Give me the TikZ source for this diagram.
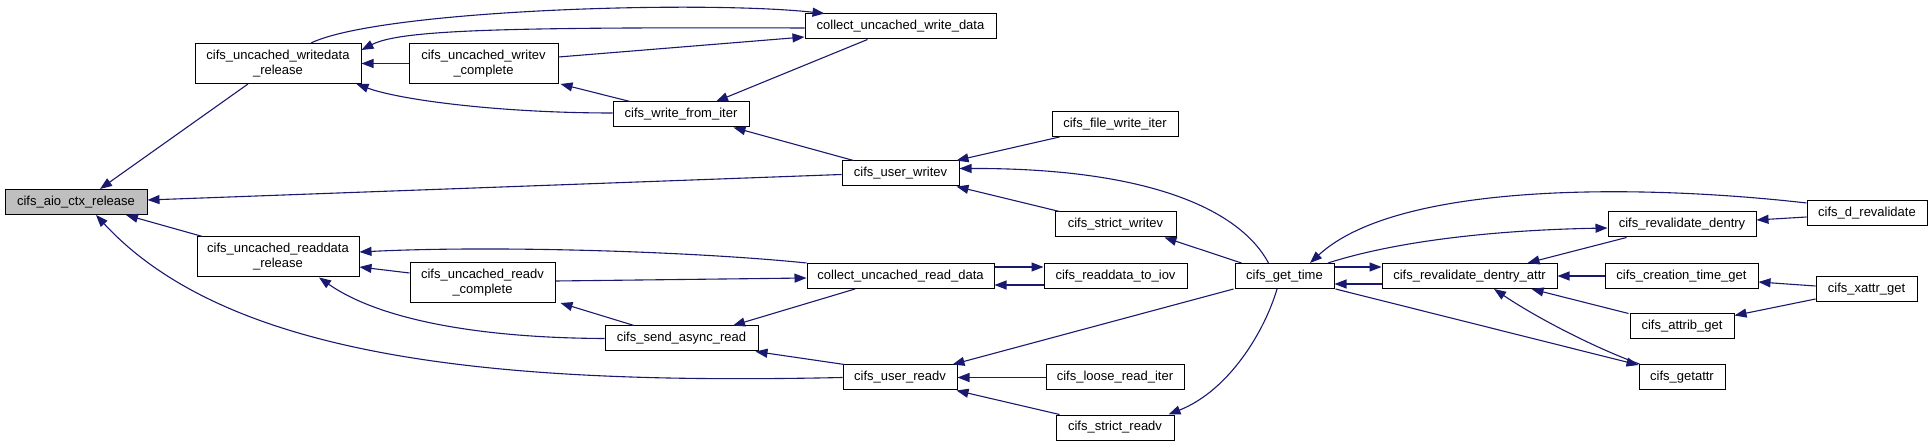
\documentclass[tikz,border=0pt]{standalone}
\usepackage{fontspec}
\setmainfont{Liberation Sans}
\usetikzlibrary{arrows.meta}
\definecolor{edgeblue}{HTML}{191970}
\definecolor{hilite}{HTML}{BFBFBF}
\tikzset{
  fn/.style={draw=black, line width=1pt, rectangle, inner sep=0pt, align=center,
    minimum height=25pt, font=\fontsize{13}{15}\selectfont},
  fntwo/.style={fn, minimum height=40pt},
  edge/.style={draw=edgeblue, line width=1.1pt, -{Triangle[length=12pt,width=9pt]}}
}
\begin{document}
\begin{tikzpicture}[x=1pt,y=1pt]
\useasboundingbox[fill=white] (0,0) rectangle (1932,447);
% nodes
\node[fn, fill=hilite, minimum width=142pt] (aio) at (76,245) {cifs\_aio\_ctx\_release};
\node[fntwo, minimum width=166pt] (wdr) at (278,383.5) {cifs\_uncached\_writedata\\\_release};
\node[fntwo, minimum width=149pt] (wvc) at (483.5,383.5) {cifs\_uncached\_writev\\\_complete};
\node[fn, minimum width=191pt] (cuwd) at (900.5,420.5) {collect\_uncached\_write\_data};
\node[fn, minimum width=136pt] (wfi) at (681,332.5) {cifs\_write\_from\_iter};
\node[fn, minimum width=126pt] (fwi) at (1115,323) {cifs\_file\_write\_iter};
\node[fn, minimum width=117pt] (uw) at (900.5,273.5) {cifs\_user\_writev};
\node[fn, minimum width=121pt] (sw) at (1115.5,222.5) {cifs\_strict\_writev};
\node[fntwo, minimum width=162pt] (rdr) at (278,190) {cifs\_uncached\_readdata\\\_release};
\node[fntwo, minimum width=145pt] (rvc) at (482.5,164.5) {cifs\_uncached\_readv\\\_complete};
\node[fn, minimum width=187pt] (curd) at (900.5,171) {collect\_uncached\_read\_data};
\node[fn, minimum width=143pt] (rti) at (1115.5,171) {cifs\_readdata\_to\_iov};
\node[fn, minimum width=153pt] (sar) at (681.5,108.5) {cifs\_send\_async\_read};
\node[fn, minimum width=114pt] (ur) at (900,69.5) {cifs\_user\_readv};
\node[fn, minimum width=138pt] (lri) at (1115,69.5) {cifs\_loose\_read\_iter};
\node[fn, minimum width=118pt] (sr) at (1115,19.5) {cifs\_strict\_readv};
\node[fn, minimum width=99pt] (gt) at (1284.5,171) {cifs\_get\_time};
\node[fn, minimum width=175pt] (rda) at (1469.5,171) {cifs\_revalidate\_dentry\_attr};
\node[fn, minimum width=148pt] (rd) at (1682,222.5) {cifs\_revalidate\_dentry};
\node[fn, minimum width=153pt] (ctg) at (1681.5,171) {cifs\_creation\_time\_get};
\node[fn, minimum width=104pt] (attrib) at (1682,120.5) {cifs\_attrib\_get};
\node[fn, minimum width=86pt] (getattr) at (1682,70) {cifs\_getattr};
\node[fn, minimum width=120pt] (dr) at (1867,233.5) {cifs\_d\_revalidate};
\node[fn, minimum width=101pt] (xg) at (1866.5,157.5) {cifs\_xattr\_get};
% edges (arrow at callee)
\draw[edge] ([xshift=-30pt]wdr.south) -- ([xshift=24pt]aio.north);
\draw[edge] ([yshift=-1pt]uw.west) -- ([yshift=2pt]aio.east);
\draw[edge] ([xshift=6pt]rdr.north west) -- ([xshift=50pt]aio.south);
\draw[edge] (ur.west) .. controls (500,62) and (230,87) .. ([xshift=20pt]aio.south);
\draw[edge] ([xshift=33pt]wdr.north) .. controls (380,437) and (700,447) .. ([xshift=-76pt]cuwd.north);
\draw[edge] ([yshift=-1.5pt]cuwd.west) .. controls (500,420) and (400,417) .. ([yshift=13.5pt]wdr.east);
\draw[edge] ([yshift=6.5pt]wvc.east) -- ([yshift=-10.5pt]cuwd.west);
\draw[edge] (wvc.west) -- (wdr.east);
\draw[edge] ([yshift=1.5pt]wfi.west) .. controls (500,334) and (400,347) .. ([xshift=-5pt]wdr.south east);
\draw[edge] ([xshift=-51pt]wfi.north) -- ([xshift=2pt]wvc.south east);
\draw[edge] ([xshift=-33pt]cuwd.south) -- ([xshift=35pt]wfi.north);
\draw[edge] ([xshift=-47pt]uw.north) -- ([xshift=-16pt]wfi.south east);
\draw[edge] ([xshift=8pt]fwi.south west) -- ([xshift=-3pt]uw.north east);
\draw[edge] ([xshift=-16pt]gt.north) .. controls (1240,237) and (1150,279) .. ([yshift=5pt]uw.east);
\draw[edge] ([xshift=5pt]sw.north west) -- ([xshift=-3pt]uw.south east);
\draw[edge] ([xshift=7pt]gt.north west) -- ([xshift=-12pt]sw.south east);
\draw[edge] (curd.north west) .. controls (700,195) and (500,202) .. ([yshift=5pt]rdr.east);
\draw[edge] ([yshift=9.5pt]rvc.west) -- ([yshift=-10pt]rdr.east);
\draw[edge] (sar.west) .. controls (480,109) and (380,127) .. ([xshift=41pt]rdr.south);
\draw[edge] ([yshift=1.5pt]rvc.east) -- ([yshift=-2pt]curd.west);
\draw[edge] ([xshift=-47.5pt]sar.north) -- ([xshift=5pt]rvc.south east);
\draw[edge] ([xshift=-45.5pt]curd.south) -- ([xshift=51.5pt]sar.north);
\draw[edge] ([xshift=2pt]ur.north west) -- ([xshift=-3pt]sar.south east);
\draw[edge] ([yshift=9pt]curd.east) -- ([yshift=9pt]rti.west);
\draw[edge] ([yshift=-9pt]rti.west) -- ([yshift=-9pt]curd.east);
\draw[edge] ([xshift=-1pt]gt.south west) -- ([xshift=-5pt]ur.north east);
\draw[edge] (lri.west) -- (ur.east);
\draw[edge] ([xshift=4pt]sr.north west) -- ([xshift=-1pt]ur.south east);
\draw[edge] ([xshift=-7.5pt]gt.south) .. controls (1265,117) and (1230,57) .. ([xshift=-6pt]sr.north east);
\draw[edge] ([yshift=10.5pt]dr.west) .. controls (1650,262) and (1400,267) .. ([xshift=25.5pt]gt.north);
\draw[edge] ([xshift=-6.5pt]gt.north east) .. controls (1400,207) and (1500,217) .. ([yshift=-3.5pt]rd.west);
\draw[edge] ([yshift=9pt]gt.east) -- ([yshift=9pt]rda.west);
\draw[edge] ([yshift=-8pt]rda.west) -- ([yshift=-8pt]gt.east);
\draw[edge] ([xshift=1pt]gt.south east) -- ([yshift=-1pt]getattr.north west);
\draw[edge] ([xshift=19pt]rd.south west) -- ([xshift=-30pt]rda.north east);
\draw[edge] (ctg.west) -- (rda.east);
\draw[edge] ([xshift=-1pt]attrib.north west) -- ([xshift=-26pt]rda.south east);
\draw[edge] ([xshift=1pt]getattr.north west) .. controls (1600,97) and (1540,127) .. ([xshift=24.5pt]rda.south);
\draw[edge] ([yshift=-3.5pt]dr.west) -- ([yshift=4.5pt]rd.east);
\draw[edge] ([yshift=3.5pt]xg.west) -- ([yshift=-6pt]ctg.east);
\draw[edge] ([yshift=-9.5pt]xg.west) -- ([yshift=11pt]attrib.east);
\end{tikzpicture}
\end{document}
